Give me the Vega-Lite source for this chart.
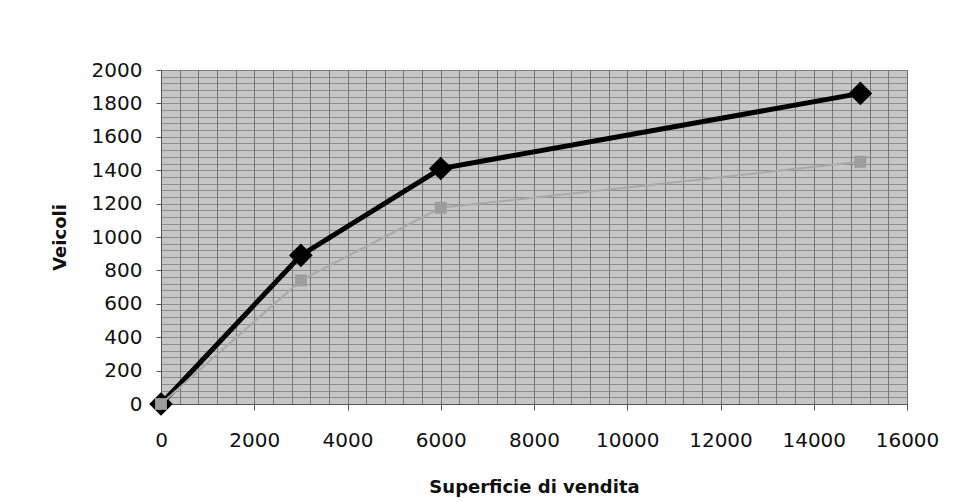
{
  "$schema": "https://vega.github.io/schema/vega-lite/v6.json",
  "width": 746,
  "height": 334,
  "autosize": {"type": "none"},
  "padding": {"left": 161, "top": 70, "right": 65, "bottom": 98},
  "background": "white",
  "config": {
    "view": {"fill": "#c6c6c6", "stroke": "#8c8c8c", "strokeWidth": 1},
    "font": "DejaVu Sans"
  },
  "data": {
    "values": [
      {"serie": "A", "superficie": 0, "veicoli": 0},
      {"serie": "A", "superficie": 3000, "veicoli": 890},
      {"serie": "A", "superficie": 6000, "veicoli": 1410},
      {"serie": "A", "superficie": 15000, "veicoli": 1860},
      {"serie": "B", "superficie": 0, "veicoli": 0},
      {"serie": "B", "superficie": 3000, "veicoli": 740},
      {"serie": "B", "superficie": 6000, "veicoli": 1175},
      {"serie": "B", "superficie": 15000, "veicoli": 1450}
    ]
  },
  "encoding": {
    "x": {
      "field": "superficie",
      "type": "quantitative",
      "scale": {"domain": [0, 16000], "nice": false, "zero": true},
      "axis": {
        "title": "Superficie di vendita",
        "titleFont": "DejaVu Sans",
        "titleFontSize": 18,
        "titleFontWeight": "bold",
        "titleColor": "#111",
        "titlePadding": 28,
        "values": [0,400,800,1200,1600,2000,2400,2800,3200,3600,4000,4400,4800,5200,5600,6000,6400,6800,7200,7600,8000,8400,8800,9200,9600,10000,10400,10800,11200,11600,12000,12400,12800,13200,13600,14000,14400,14800,15200,15600,16000],
        "labelExpr": "datum.value % 2000 === 0 ? datum.label : ''",
        "format": "d",
        "labelOverlap": false,
        "labelFont": "DejaVu Sans",
        "labelFontSize": 20,
        "labelColor": "#111",
        "labelPadding": 20,
        "labelFlush": false,
        "tickSize": 6,
        "tickColor": "#555",
        "tickOpacity": {"condition": {"test": "datum.value % 2000 === 0", "value": 1}, "value": 0},
        "domainColor": "#555",
        "grid": true,
        "gridColor": "#6e6e6e",
        "gridWidth": 1,
        "gridOpacity": 0.9
      }
    },
    "y": {
      "field": "veicoli",
      "type": "quantitative",
      "scale": {"domain": [0, 2000], "nice": false},
      "axis": {
        "title": "Veicoli",
        "titleFont": "DejaVu Sans",
        "titleFontSize": 18,
        "titleFontWeight": "bold",
        "titleColor": "#111",
        "titlePadding": 22,
        "values": [0,40,80,120,160,200,240,280,320,360,400,440,480,520,560,600,640,680,720,760,800,840,880,920,960,1000,1040,1080,1120,1160,1200,1240,1280,1320,1360,1400,1440,1480,1520,1560,1600,1640,1680,1720,1760,1800,1840,1880,1920,1960,2000],
        "labelExpr": "datum.value % 200 === 0 ? datum.label : ''",
        "format": "d",
        "labelOverlap": false,
        "labelFont": "DejaVu Sans",
        "labelFontSize": 20,
        "labelColor": "#111",
        "labelPadding": 14,
        "labelFlush": false,
        "tickSize": 5,
        "tickColor": "#555",
        "tickOpacity": {"condition": {"test": "datum.value % 200 === 0", "value": 1}, "value": 0},
        "domainColor": "#555",
        "grid": true,
        "gridColor": "#7a7a7a",
        "gridWidth": 1,
        "gridOpacity": 0.75
      }
    }
  },
  "layer": [
    {
      "transform": [{"filter": "datum.serie === 'A'"}],
      "mark": {
        "type": "line",
        "color": "#000000",
        "strokeWidth": 5,
        "point": {"shape": "diamond", "size": 560, "filled": true, "color": "#000000", "opacity": 1}
      }
    },
    {
      "transform": [{"filter": "datum.serie === 'B'"}],
      "mark": {
        "type": "line",
        "color": "#a9a9a9",
        "strokeWidth": 2,
        "point": {"shape": "square", "size": 140, "filled": true, "color": "#9c9c9c", "opacity": 1}
      }
    }
  ]
}
